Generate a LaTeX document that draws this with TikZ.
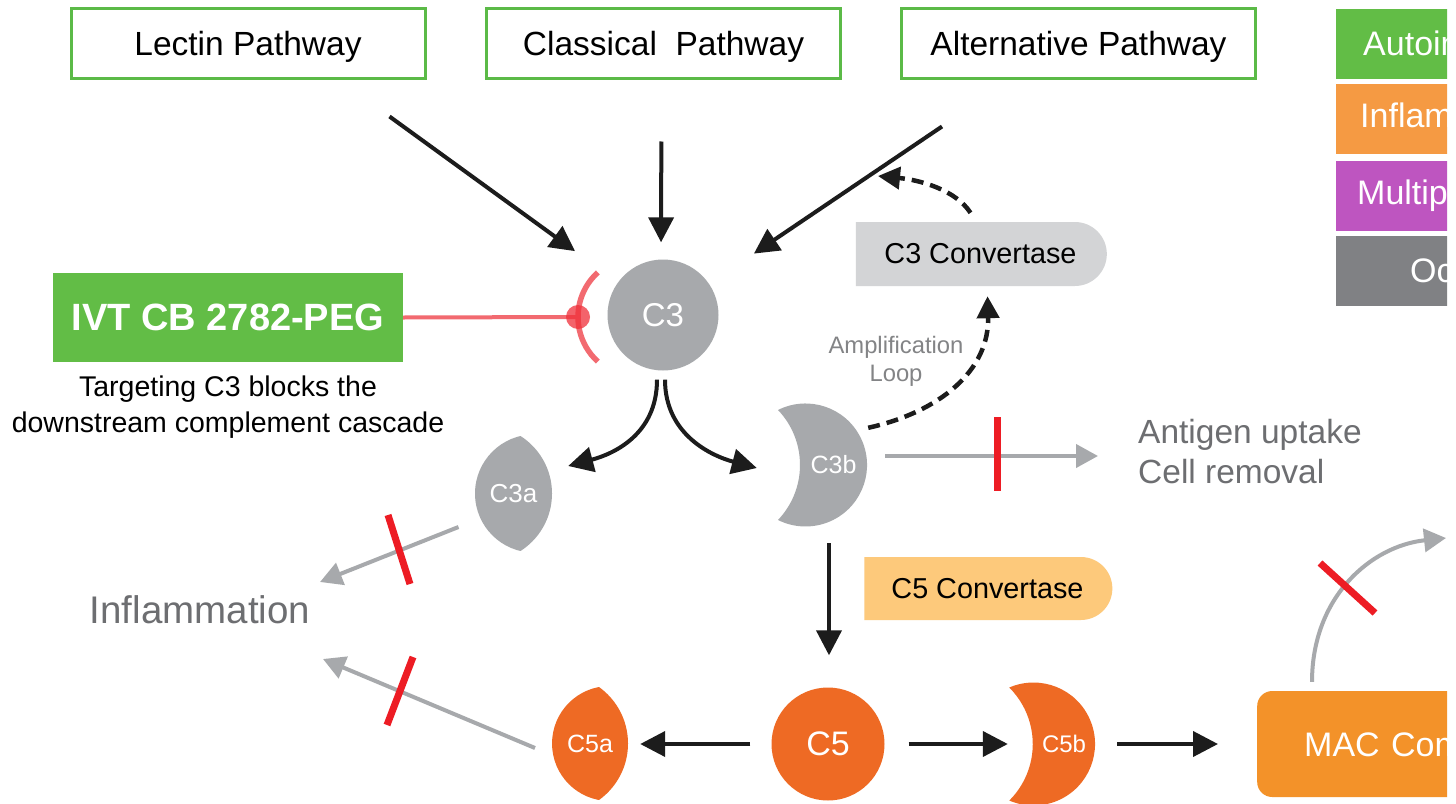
\documentclass[tikz,border=0pt]{standalone}
\usepackage{fontspec}
\setmainfont{Liberation Sans}
\usetikzlibrary{arrows.meta,shapes.misc}
\definecolor{pgreen}{HTML}{5BBA47}
\definecolor{ivtgreen}{HTML}{62BD46}
\definecolor{legorange}{HTML}{F59A43}
\definecolor{legpurple}{HTML}{BE55C0}
\definecolor{leggray}{HTML}{808184}
\definecolor{cgray}{HTML}{A7A9AC}
\definecolor{convgray}{HTML}{D3D4D6}
\definecolor{convorange}{HTML}{FDC97B}
\definecolor{corange}{HTML}{EE6A24}
\definecolor{macorange}{HTML}{F39229}
\definecolor{arrblack}{HTML}{1C1C1C}
\definecolor{arrgray}{HTML}{A7A9AC}
\definecolor{barred}{HTML}{ED1C24}
\definecolor{txtgray}{HTML}{6D6E71}
\definecolor{inhred}{HTML}{F26A70}
\definecolor{dotred}{HTML}{F0303A}
\begin{document}
\begin{tikzpicture}[x=1pt,y=-1pt,
  pathbox/.style={draw=pgreen, line width=3pt, minimum width=354pt, minimum height=70pt, inner sep=0pt, text height=24pt, text depth=0pt, font=\fontsize{33.5}{40}\selectfont, text=black},
  legbox/.style={anchor=west, minimum height=70pt, text width=330pt, align=left, inner ysep=0pt, font=\fontsize{34}{40}\selectfont, text=white},
  blk/.style={draw=arrblack, line width=4pt, -{Triangle[length=25pt,width=25pt]}},
  gry/.style={draw=arrgray, line width=4pt, -{Triangle[length=22pt,width=23pt]}},
  dsh/.style={draw=arrblack, line width=4.5pt, dash pattern=on 12pt off 7pt, -{Triangle[length=22pt,width=22pt]}},
  redbar/.style={draw=barred, line width=7pt},
  lbl/.style={inner sep=0pt, text=white},
  conv/.style={rounded rectangle, rounded rectangle left arc=none, inner sep=0pt, font=\fontsize{28.8}{34}\selectfont, text=black}
]
\useasboundingbox (0,0) rectangle (1456,803);
\fill[white] (0,0) rectangle (1456,803);
\clip (0,0) rectangle (1447,803);

% pathway boxes
\node[pathbox] (lectin) at (248,43) {Lectin Pathway};
\node[pathbox] (classical) at (663.5,43) {Classical\ \ Pathway};
\node[pathbox] (alt) at (1078.5,43) {Alternative Pathway};

% legend (cut off at the right edge, as in the reference)
\node[legbox, fill=ivtgreen, inner xsep=27pt] (leg1) at (1336,43.5) {Autoimmune};
\node[legbox, fill=legorange, inner xsep=24pt] (leg2) at (1336,119) {Inflammatory};
\node[legbox, fill=legpurple, inner xsep=21pt] (leg3) at (1336,195.5) {Multiple};
\node[legbox, fill=leggray, inner xsep=74pt] (leg4) at (1336,270.5) {Ocular};

% IVT box
\node[fill=ivtgreen, minimum width=350pt, minimum height=89pt, inner sep=0pt, text=white, font=\bfseries\fontsize{38}{44}\selectfont] (ivt) at (228,317.5) {IVT CB 2782-PEG};
\node[align=center, inner sep=0pt, font=\fontsize{28.5}{36}\selectfont] (cap) at (228,407.5) {Targeting C3 blocks the\\downstream complement cascade};

% C3
\node[circle, fill=cgray, minimum size=111pt, inner sep=0pt, text=white, font=\fontsize{33}{38}\selectfont] (c3) at (663,315) {C3};

% inhibitor
\coordinate (dot) at (578,317);
\draw[inhred, line width=4pt] (ivt.east) -- (dot);
\draw[inhred, line width=5.5pt] (638,317) ++(132:60pt) arc[start angle=132, end angle=228, radius=60pt];
\fill[dotred, opacity=0.75] (dot) circle[radius=12pt];

% pathway arrows
\draw[blk, shorten >=53pt] ([shift={(-37,37)}]lectin.south east) -- (c3);
\draw[blk, shorten <=62pt, shorten >=17pt] ([shift={(-2,0)}]classical.south) -- ([shift={(-2,0)}]c3.north);
\draw[blk, shorten >=54pt] ([shift={(42,47)}]alt.south west) -- (c3);

% C3a lens
\begin{scope}
  \clip (534.1,493.5) circle[radius=59.1pt];
  \fill[cgray] (483.8,493.5) circle[radius=68.2pt];
\end{scope}
\node[lbl, minimum width=77pt, minimum height=115pt, font=\fontsize{26}{30}\selectfont] (c3a) at (513.5,494) {C3a};

% C3b crescent
\fill[cgray] (778,410) arc[start angle=116.6, end angle=-116.6, radius=61.5pt]
   arc[start angle=-43.6, end angle=43.6, radius=79.75pt] -- cycle;
\node[lbl, minimum width=67pt, minimum height=110pt, font=\fontsize{25}{30}\selectfont] (c3b) at (833.5,465) {C3b};

% split arrows
\draw[blk] ([shift={(-6,9)}]c3.south) .. controls +(0,55) and +(45,-12) .. ([shift={(16,-28)}]c3a.east);
\draw[blk] ([shift={(2,9)}]c3.south) .. controls +(0,55) and +(-45,-12) .. ([shift={(-43,3)}]c3b.west);

% C3 convertase
\node[conv, fill=convgray, minimum width=251pt, minimum height=64pt] (c3conv) at (980.5,254) {C3 Convertase};
\draw[dsh] ([shift={(1,18)}]c3b.north east) .. controls +(72,-16) and +(2,74) .. ([shift={(7,10)}]c3conv.south);
\draw[dsh] ([shift={(-10,-9)}]c3conv.north) .. controls +(-15,-23) and +(42,4) .. (878,176);
\node[align=center, inner sep=0pt, text=txtgray!85, font=\fontsize{23.8}{28}\selectfont] (amp) at (896,361) {Amplification\\Loop};

% antigen
\node[anchor=west, align=left, inner sep=0pt, text=txtgray, font=\fontsize{33.5}{40}\selectfont] (ant) at (1138,452) {Antigen uptake\\Cell removal};
\draw[gry] ([shift={(18,-9)}]c3b.east) -- ([shift={(-40,4)}]ant.west);
\draw[redbar] (997,417) -- (997,491);

% C5
\node[circle, fill=corange, minimum size=113pt, inner sep=0pt, text=white, font=\fontsize{34}{40}\selectfont] (c5) at (828,744) {C5};
\draw[blk] ([shift={(1,23)}]c3b.south -| c5.north) -- ([shift={(1,-32)}]c5.north);
\node[conv, fill=convorange, minimum width=248pt, minimum height=63pt] (c5conv) at (987.5,588.5) {C5 Convertase};

% C5a lens
\begin{scope}
  \clip (609.5,743.5) circle[radius=57.46pt];
  \fill[corange] (558.5,743.5) circle[radius=69.5pt];
\end{scope}
\node[lbl, minimum width=76pt, minimum height=113pt, font=\fontsize{25}{30}\selectfont] (c5a) at (590,744) {C5a};

% C5b crescent
\fill[corange] (1009.3,687.5) arc[start angle=113.2, end angle=-113.2, radius=61.5pt]
   arc[start angle=-45.1, end angle=45.1, radius=79.75pt] -- cycle;
\node[lbl, minimum width=62pt, minimum height=110pt, font=\fontsize{24}{30}\selectfont] (c5b) at (1064,744) {C5b};

% MAC
\node[anchor=west, fill=macorange, rounded corners=15pt, minimum height=106pt, text width=330pt, align=left, inner xsep=47pt, inner ysep=0pt, text height=25pt, text depth=0pt, text=white, font=\fontsize{34}{40}\selectfont] (mac) at (1257,744) {MAC Complex};

% C5 row arrows
\draw[blk, shorten <=21pt, shorten >=12pt] (c5.west) -- (c5a.east |- c5.west);
\draw[blk, shorten <=24pt, shorten >=25pt] (c5.east) -- (c5b.west |- c5.east);
\draw[blk, shorten <=22pt, shorten >=39pt] (c5b.east) -- (mac.west |- c5b.east);

% MAC curved arrow
\coordinate (macout) at (1446,538);
\draw[gry] ([shift={(55,-9)}]mac.north west) .. controls +(0,-85) and +(-75,8) .. (macout);
\draw[redbar] (1320,563) -- (1375,613);

% inflammation
\node[inner sep=0pt, text=txtgray, font=\fontsize{38.5}{44}\selectfont] (inf) at (200,610) {Inflammation};
\draw[gry] ([shift={(-55,33)}]c3a.center) -- ([shift={(120,-28)}]inf.center);
\draw[redbar] (388,515) -- (410,584);
\draw[gry] ([shift={(-55,4)}]c5a.center) -- ([shift={(123,49)}]inf.center);
\draw[redbar] (413,657) -- (387,725);
\end{tikzpicture}
\end{document}
